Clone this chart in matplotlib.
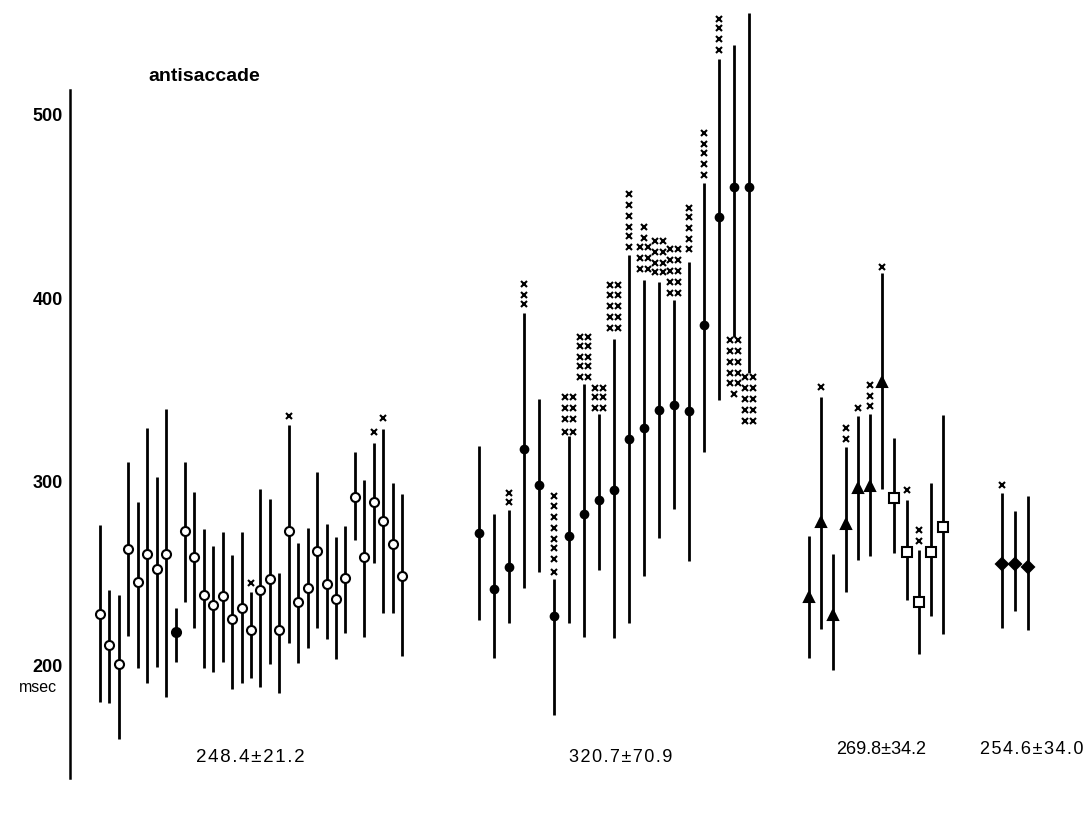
import matplotlib
matplotlib.use('Agg')
import matplotlib.pyplot as plt
from collections import Counter

plt.rcParams['font.family'] = ['Liberation Sans', 'DejaVu Sans']

# ---------------- data (msec) ----------------
# Group 1: open circles
g1_mean = [228.0, 211.1, 200.8, 263.4, 245.4, 260.7, 252.5, 260.7, 218.2, 273.2, 259.0,
           238.3, 232.9, 237.8, 225.3, 231.3, 219.3, 241.1, 247.1, 219.3, 273.2, 234.5,
           242.2, 262.3, 244.3, 236.2, 247.6, 291.7, 259.0, 289.0, 278.6, 266.1, 248.7]
g1_hi = [276.5, 241.1, 238.3, 310.8, 289.0, 329.3, 302.6, 339.7, 231.3, 310.8, 294.4,
         274.3, 265.0, 272.7, 260.1, 272.7, 240.0, 296.1, 290.6, 250.3, 330.9, 266.7,
         274.8, 305.3, 277.0, 269.9, 275.9, 316.2, 301.0, 321.1, 328.8, 299.3, 293.4]
g1_lo = [180.1, 179.5, 159.9, 216.0, 198.6, 190.4, 199.1, 182.8, 201.9, 234.5, 220.4,
         198.6, 196.4, 201.9, 187.1, 190.4, 193.1, 188.2, 200.8, 185.0, 212.2, 201.3,
         209.5, 220.4, 214.4, 203.5, 217.6, 268.3, 215.5, 255.8, 228.5, 228.5, 205.1]
g1_out = {16: [245], 20: [336], 29: [327], 30: [335]}
g1_label = "248.4\u00b121.2"

# Group 2: filled circles
g2_mean = [272.1, 241.6, 253.6, 317.9, 298.3, 226.9, 270.5, 282.5, 290.1, 295.5,
           323.3, 329.3, 339.1, 341.8, 338.6, 385.4, 444.2, 460.6, 460.6]
g2_hi = [319.5, 282.5, 284.6, 391.9, 345.1, 247.1, 324.9, 353.3, 336.9, 377.8,
         423.5, 409.9, 408.8, 399.0, 419.7, 462.7, 530.3, 537.9, 555.3]
g2_lo = [224.7, 204.0, 223.1, 242.2, 250.9, 173.0, 223.1, 215.5, 252.0, 214.9,
         223.1, 248.7, 269.4, 285.2, 256.9, 316.2, 344.6, 378.9, 359.3]
g2_out = {
    2: [294, 289],
    3: [408, 402, 397],
    5: [292, 287, 281, 275, 269, 264, 258, 251],
    6: [346, 346, 340, 340, 334, 334, 327, 327],
    7: [379, 379, 374, 374, 368, 368, 363, 363, 357, 357],
    8: [351, 351, 346, 346, 340, 340],
    9: [407, 407, 402, 402, 396, 396, 390, 390, 384, 384],
    10: [457, 451, 445, 439, 434, 428],
    11: [439, 433, 428, 428, 422, 422, 416, 416],
    12: [431, 431, 425, 425, 419, 419, 414, 414],
    13: [427, 427, 421, 421, 415, 415, 409, 409, 403, 403],
    14: [449, 444, 438, 432, 427],
    15: [490, 484, 479, 473, 467],
    16: [552, 547, 541, 535],
    17: [377, 377, 371, 371, 365, 365, 359, 359, 354, 354, 348],
    18: [357, 357, 351, 351, 345, 345, 339, 339, 333, 333],
}
g2_label = "320.7\u00b170.9"

# Group 3: triangles (first 7) and squares (last 5)
g3_mean = [237.3, 278.1, 227.5, 277.0, 296.6, 297.7, 354.4, 291.2, 261.8, 234.5, 261.8, 275.4]
g3_hi = [270.5, 346.2, 260.7, 319.0, 335.8, 337.0, 413.7, 323.9, 290.1, 262.9, 299.3, 336.4]
g3_lo = [204.0, 219.8, 197.5, 240.0, 257.4, 259.6, 296.1, 261.2, 235.6, 206.2, 226.9, 217.1]
g3_out = {1: [351.6], 3: [329.3, 323.3], 4: [340.2], 5: [352.7, 346.7, 341.3],
          6: [417], 8: [295.5], 9: [273.7, 267.8]}
g3_label = "269.8\u00b134.2"

# Group 4: diamonds
g4_mean = [255.2, 255.2, 253.6]
g4_hi = [293.9, 284.1, 292.3]
g4_lo = [220.4, 229.6, 219.3]
g4_out = {0: [298.3]}
g4_label = "254.6\u00b134.0"

yticks = [200, 300, 400, 500]
title = "antisaccade"
unit = "msec"

# ---------------- layout ----------------
W, H = 1092, 827
fig = plt.figure(figsize=(W / 100, H / 100), dpi=100)
ax = fig.add_axes([0, 0, 1, 1])


def v_of_px(py):
    return 350 - (py - 390) / 1.836


ax.set_xlim(0, W)
ax.set_ylim(v_of_px(H), v_of_px(0))

for s in ['top', 'right', 'bottom']:
    ax.spines[s].set_visible(False)
ax.spines['left'].set_position(('data', 70))
ax.spines['left'].set_bounds(v_of_px(778), v_of_px(90))
ax.spines['left'].set_linewidth(1.8)
ax.set_xticks([])
ax.set_yticks(yticks)
ax.set_yticklabels([str(t) for t in yticks], fontsize=13, fontweight='bold')
ax.tick_params(axis='y', length=0, pad=5)
ax.text(38, v_of_px(688), unit, ha='center', va='center', fontsize=11.5)
ax.text(148, v_of_px(76), title, ha='left', va='center', fontsize=14, fontweight='bold')

LW = 2.0


def spaced(s):
    return "\u200a".join(s)


def draw_group(start, step, mean, lo, hi, out, markers, label, lab_xy, lab_fs, track):
    xs = [start + i * step for i in range(len(mean))]
    ax.vlines(xs, lo, hi, colors='black', lw=LW, zorder=2)
    for i, (x, m) in enumerate(zip(xs, mean)):
        mk, filled, ms = markers(i)
        ax.plot([x], [m], marker=mk, ms=ms, mec='black', mew=1.5,
                mfc='black' if filled else 'white', ls='none', zorder=3)
    for i, vals in out.items():
        cnt = Counter(vals)
        for v, c in cnt.items():
            if c == 1:
                offs = [0]
            elif c == 2:
                offs = [-3.6, 3.6]
            else:
                offs = [-6, 0, 6]
            for o in offs:
                ax.plot([xs[i] + o], [v], marker='x', ms=3.8, mew=1.5,
                        color='black', ls='none', zorder=3)
    txt = spaced(label) if track else label
    ax.text(lab_xy[0], v_of_px(lab_xy[1]), txt, ha='center', va='center', fontsize=lab_fs)


draw_group(100, 9.44, g1_mean, g1_lo, g1_hi, g1_out,
           lambda i: ('o', i == 8, 6.5), g1_label, (250, 757), 13.5, True)
draw_group(479, 15.0, g2_mean, g2_lo, g2_hi, g2_out,
           lambda i: ('o', True, 5.5), g2_label, (621, 757), 13, True)
draw_group(809, 12.2, g3_mean, g3_lo, g3_hi, g3_out,
           lambda i: ('^', True, 6.5) if i < 7 else ('s', False, 7), g3_label, (881, 749), 13, False)
draw_group(1002, 13.0, g4_mean, g4_lo, g4_hi, g4_out,
           lambda i: ('D', True, 6.5), g4_label, (1032, 749), 13, True)

fig.savefig('out.png', dpi=100)
